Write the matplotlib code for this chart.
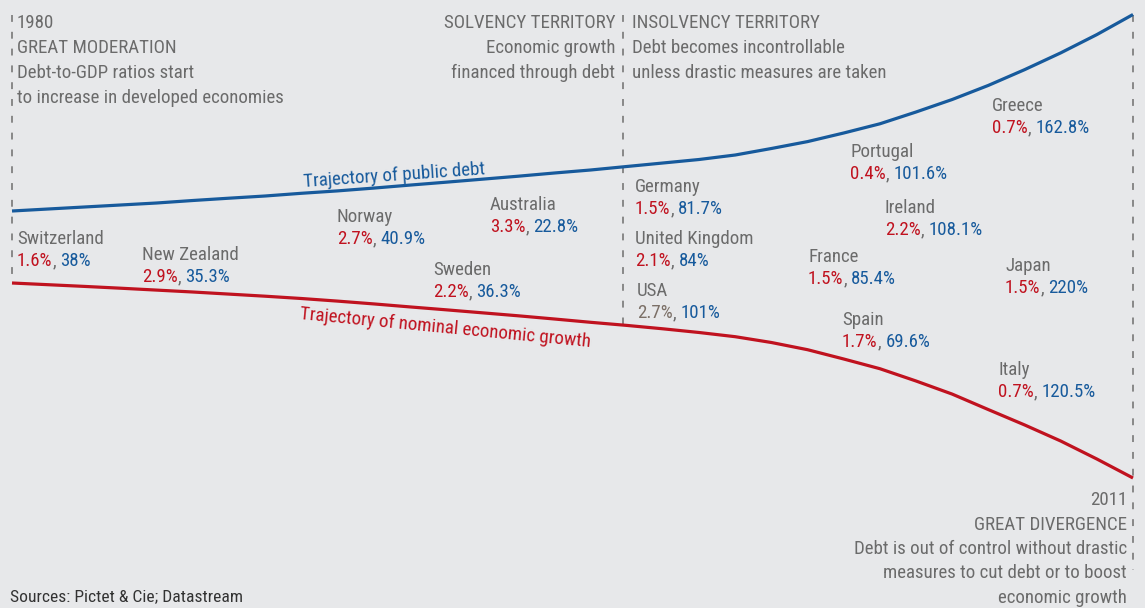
import matplotlib.pyplot as plt
from matplotlib import font_manager as fm

# trajectories (index level), one value per year 1980-2011
years = list(range(1980, 2012))
debt_level = [397, 399, 401, 403, 405, 407.5, 409.8, 412, 414.7, 417.1, 419.9,
              422.9, 425.8, 428.8, 431.8, 435, 438, 441.5, 445, 448.5, 453,
              459.5, 466.4, 475, 484.2, 496, 508.5, 522.6, 538.3, 555.1, 573.4, 593.5]
growth_level = [325, 323.3, 321.6, 319.8, 317.9, 316, 313.9, 311.8, 309.5, 306.9,
                304.1, 301.1, 298.2, 295.2, 292.2, 289, 285.7, 282.6, 279.2, 275.5,
                271.3, 265.5, 258.3, 249, 239.3, 227, 213.9, 198.4, 183.1, 167, 149, 130]

countries = ["Switzerland", "New Zealand", "Norway", "Australia", "Sweden",
             "Germany", "United Kingdom", "USA", "France", "Portugal",
             "Ireland", "Spain", "Greece", "Japan", "Italy"]
growth = ["1.6", "2.9", "2.7", "3.3", "2.2", "1.5", "2.1", "2.7", "1.5", "0.4",
          "2.2", "1.7", "0.7", "1.5", "0.7"]
debt = ["38", "35.3", "40.9", "22.8", "36.3", "81.7", "84", "101", "85.4", "101.6",
        "108.1", "69.6", "162.8", "220", "120.5"]

# label anchors in pixels (left, name-line centre)
label_pos = [(17, 239), (142, 255), (337, 217), (490, 205), (433, 270),
             (635, 187), (635, 239), (637, 291), (808, 257), (850, 152),
             (885, 208), (842, 320), (992, 106), (1005, 266), (998, 370)]

BG = "#e7e8ea"
BLUE = "#175a9c"
RED = "#c0121f"
GRAY = "#6b6b6b"
BROWN = "#7b6f66"

# pick a condensed face if one is installed
faces = {(f.name, f.stretch) for f in fm.fontManager.ttflist}
names = {n for n, s in faces}
STRETCH = 'normal'
if 'Liberation Sans Narrow' in names:
    FAMILY = 'Liberation Sans Narrow'
elif 'Roboto Condensed' in names:
    FAMILY = 'Roboto Condensed'
elif ('DejaVu Sans', 'condensed') in faces:
    FAMILY, STRETCH = 'DejaVu Sans', 'condensed'
else:
    FAMILY = 'Liberation Sans'
plt.rcParams['font.family'] = [FAMILY, 'DejaVu Sans']
plt.rcParams['font.stretch'] = STRETCH

W, H = 1145, 608
PX_YEAR = 1121 / 31

fig = plt.figure(figsize=(W / 100, H / 100), dpi=100)
fig.patch.set_facecolor(BG)
ax = fig.add_axes([0, 0, 1, 1])
ax.set_facecolor(BG)
ax.axis('off')
ax.set_xlim(1980 - 12 / PX_YEAR, 1980 + 1133 / PX_YEAR)
ax.set_ylim(0, H)

# size the font so a reference line has the width it has in the picture
renderer = fig.canvas.get_renderer()
probe = fig.text(0, 0, "to increase in developed economies", fontsize=14)
FS = 14 * 268 / probe.get_window_extent(renderer).width
probe.remove()

ax.plot(years, debt_level, color=BLUE, lw=2.3, solid_capstyle='butt', zorder=3)
ax.plot(years, growth_level, color=RED, lw=2.3, solid_capstyle='butt', zorder=3)

dash = dict(color="#6e6e6e", lw=1.1, linestyle=(0, (4.5, 6.5)), zorder=1)
ax.plot([1980, 1980], [H - 15, growth_level[0]], **dash)
ax.plot([1996.9, 1996.9], [H - 15, 283], **dash)
ax.plot([2011, 2011], [debt_level[-1], H - 570], **dash)


def put(px, py, s, color=GRAY, ha='left', size=None, **kw):
    return fig.text(px / W, 1 - py / H, s, color=color, ha=ha, va='center',
                    fontsize=size or FS, **kw)


def block(px, py, lines, ha='left', step=25):
    for i, s in enumerate(lines):
        put(px, py + i * step, s, ha=ha)


block(17, 23, ["1980", "GREAT MODERATION", "Debt-to-GDP ratios start",
               "to increase in developed economies"])
block(615, 23, ["SOLVENCY TERRITORY", "Economic growth", "financed through debt"], ha='right')
block(632, 23, ["INSOLVENCY TERRITORY", "Debt becomes incontrollable",
                "unless drastic measures are taken"])
block(1127, 500, ["2011", "GREAT DIVERGENCE", "Debt is out of control without drastic",
                  "measures to cut debt or to boost", "economic growth"], ha='right', step=24.5)
put(10, 597, "Sources: Pictet & Cie; Datastream", color="#333333", size=FS * 0.93)

put(394, 176, "Trajectory of public debt", color=BLUE, ha='center', rotation=4)
put(445, 328, "Trajectory of nominal economic growth", color=RED, ha='center', rotation=-5.5)

for name, g, d, (px, py) in zip(countries, growth, debt, label_pos):
    put(px, py, name)
    gcol = BROWN if name == "USA" else RED
    t1 = put(px, py + 22, g + "%", color=gcol)
    t2 = ax.annotate(",", xy=(1, 0), xycoords=t1, va='bottom', ha='left',
                     color=GRAY, fontsize=FS)
    ax.annotate(d + "%", xy=(1, 0), xycoords=t2, xytext=(3, 0),
                textcoords='offset points', va='bottom', ha='left',
                color=BLUE, fontsize=FS)

fig.savefig("out.png", dpi=100, facecolor=BG)
